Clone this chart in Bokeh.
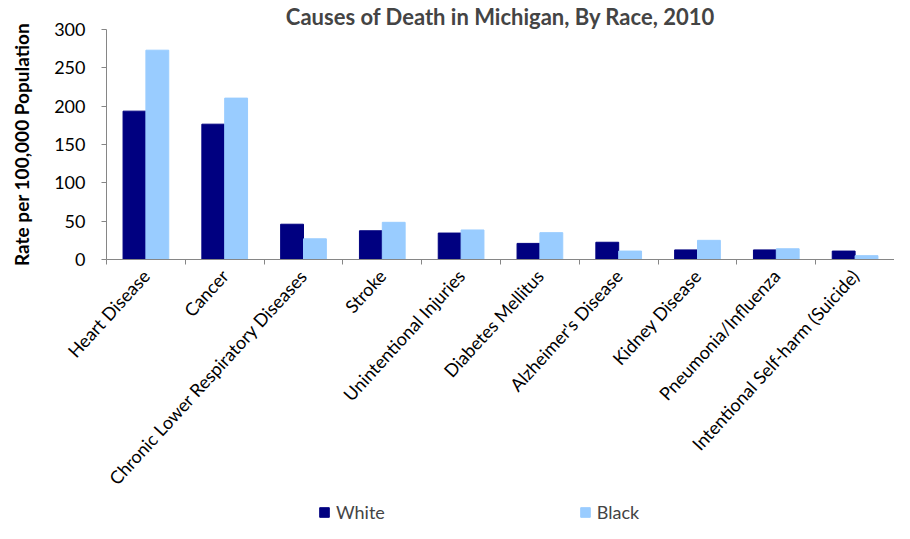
import numpy as np
from bokeh.plotting import figure
from bokeh.layouts import column
from bokeh.models import (ColumnDataSource, Range1d, FixedTicker, Legend, LegendItem)
from bokeh.transform import dodge
from bokeh.embed import file_html
from bokeh.resources import INLINE

causes = ["Heart Disease", "Cancer", "Chronic Lower Respiratory Diseases", "Stroke",
          "Unintentional Injuries", "Diabetes Mellitus", "Alzheimer's Disease",
          "Kidney Disease", "Pneumonia/Influenza", "Intentional Self-harm (Suicide)"]
white = [193.5, 176.5, 46.0, 37.5, 34.5, 21.0, 22.5, 12.5, 12.5, 11.0]
black = [273.0, 210.5, 27.0, 48.5, 38.5, 35.0, 11.0, 25.0, 14.0, 5.0]
y_ticks = [0, 50, 100, 150, 200, 250, 300]
series = ["White", "Black"]
colors = ["#000080", "#99CCFF"]

FONT = "Lato"
AXIS_GRAY = "#868686"

pos = np.arange(len(causes)) + 0.5
src = ColumnDataSource(dict(x=pos, white=white, black=black))
bw = 0.29

p = figure(width=894, height=501, output_backend="svg", toolbar_location=None,
           x_range=Range1d(0, len(causes)), y_range=Range1d(0, 300),
           min_border_left=106, min_border_right=0, min_border_top=26,
           min_border_bottom=242,
           title="Causes of Death in Michigan, By Race, 2010")
p.title.align = "center"
p.title.text_font = FONT
p.title.text_font_size = "22px"
p.title.text_font_style = "bold"
p.title.standoff = 0
p.outline_line_color = None
p.xgrid.visible = False
p.ygrid.visible = False

p.vbar(x=dodge("x", -bw / 2, range=p.x_range), top="white", width=bw, source=src,
       fill_color=colors[0], line_color=colors[0])
p.vbar(x=dodge("x", bw / 2, range=p.x_range), top="black", width=bw, source=src,
       fill_color=colors[1], line_color=colors[1])

# y axis
ya = p.yaxis[0]
ya.ticker = FixedTicker(ticks=y_ticks)
ya.axis_line_color = AXIS_GRAY
ya.major_tick_line_color = AXIS_GRAY
ya.major_tick_out = 5
ya.major_tick_in = 0
ya.minor_tick_line_color = None
ya.major_label_text_font = FONT
ya.major_label_text_font_size = "18px"
ya.major_label_text_color = "black"
ya.major_label_standoff = 16
ya.axis_label = "Rate per 100,000 Population"
ya.axis_label_text_font = FONT
ya.axis_label_text_font_size = "19px"
ya.axis_label_text_font_style = "bold"
ya.axis_label_text_color = "black"
ya.axis_label_standoff = 18

# x axis
xa = p.xaxis[0]
xa.ticker = FixedTicker(ticks=list(pos), minor_ticks=list(range(len(causes) + 1)))
xa.major_label_overrides = {float(k): c for k, c in zip(pos, causes)}
xa.axis_line_color = AXIS_GRAY
xa.major_tick_line_color = None
xa.major_tick_out = 0
xa.major_tick_in = 0
xa.minor_tick_line_color = AXIS_GRAY
xa.minor_tick_out = 5
xa.minor_tick_in = 0
xa.major_label_orientation = 0.83
xa.major_label_standoff = 8
xa.major_label_text_font = FONT
xa.major_label_text_font_size = "18px"
xa.major_label_text_color = "black"

# legend strip (its renderers reuse the same data, kept out of view)
lg = figure(width=894, height=22, output_backend="svg", toolbar_location=None,
            x_range=Range1d(-20, -19), y_range=Range1d(1000, 1001),
            min_border=0, outline_line_color=None)
lg.axis.visible = False
lg.xgrid.visible = False
lg.ygrid.visible = False
items = []
for name, col, dx in zip(series, colors, (-bw / 2, bw / 2)):
    r = lg.vbar(x=dodge("x", dx, range=lg.x_range), top=name.lower(), width=bw,
                source=src, fill_color=col, line_color=col)
    items.append(LegendItem(label=name, renderers=[r]))
legend = Legend(items=items, orientation="horizontal", location=(212, 0),
                spacing=194, glyph_width=12, glyph_height=12, label_standoff=6,
                label_text_font=FONT, label_text_font_size="18px",
                border_line_color=None, background_fill_alpha=0,
                padding=0, margin=0)
lg.add_layout(legend, "center")

layout = column(p, lg, spacing=0)
open("out.html", "w").write(file_html(layout, INLINE))
